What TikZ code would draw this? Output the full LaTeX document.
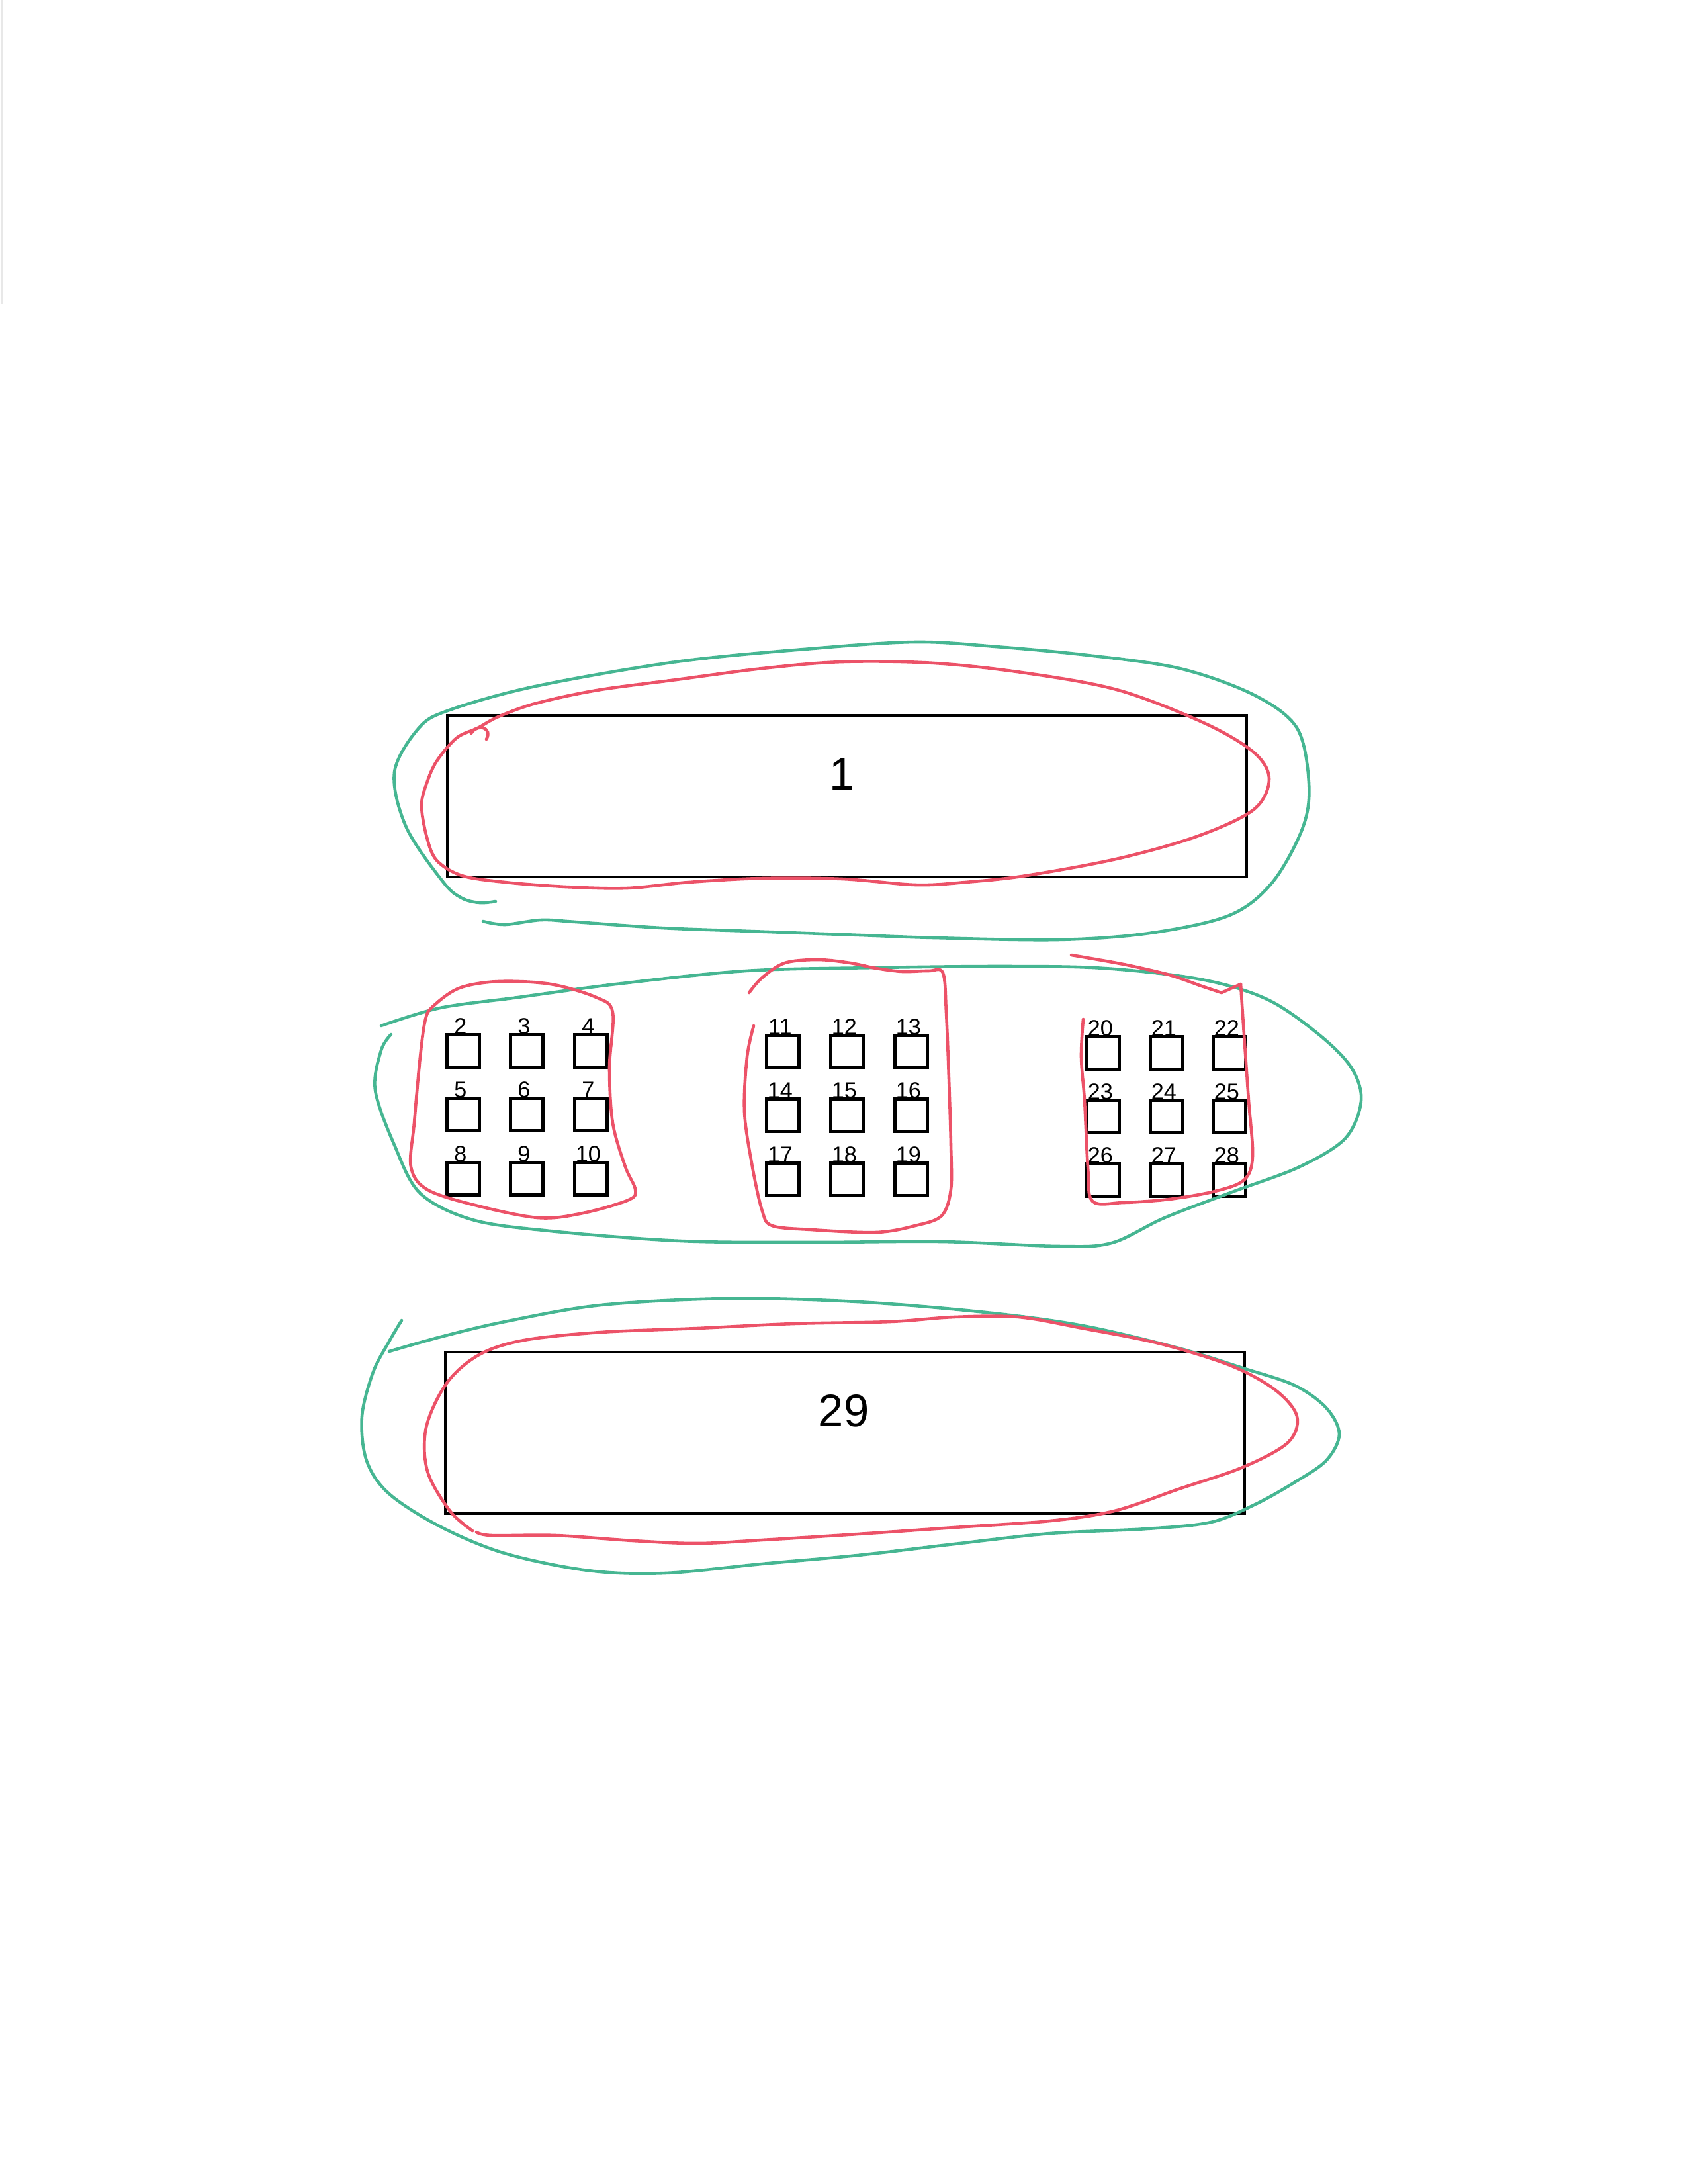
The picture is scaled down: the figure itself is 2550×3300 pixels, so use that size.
\documentclass[tikz,border=0pt]{standalone}
\usepackage{fontspec}
\setmainfont{Liberation Sans}
\definecolor{penGreen}{RGB}{70,182,146}
\definecolor{penRed}{RGB}{236,82,104}
\begin{document}
\begin{tikzpicture}[x=0.24pt,y=-0.24pt,
  bigbox/.style={draw=black, line width=0.95pt, minimum width=289.9pt, minimum height=58.6pt, inner sep=0pt},
  cell/.style={draw=black, line width=1.05pt, minimum size=11.8pt, inner sep=0pt},
  biglbl/.style={font=\fontsize{16.5}{18}\selectfont, anchor=base, inner sep=0pt},
  cellnum/.style={font=\fontsize{8.2}{9.5}\selectfont, anchor=base, inner sep=0pt, xshift=-1pt, yshift=-0.4pt},
  greenpen/.style={draw=penGreen, line width=1.1pt, line cap=round, line join=round},
  redpen/.style={draw=penRed, line width=1.1pt, line cap=round, line join=round}]
\useasboundingbox (0,0) rectangle (2550,3300);
\fill[white] (0,0) rectangle (2550,3300);
\draw[gray!18, line width=1.2pt] (3,0) -- (3,460);

% big boxes
\node[bigbox] (box1) at (1280,1203) {};
\node[biglbl] (lbl1) at (1273,1193) {1};
\node[bigbox] (box29) at (1277,2165) {};
\node[biglbl] (lbl29) at (1275,2155) {29};

% small cells
\foreach \n/\x/\y in {2/700/1588, 3/796/1588, 4/893/1588, 5/700/1684, 6/796/1684, 7/893/1684, 8/700/1781, 9/796/1781, 10/893/1781,
  11/1183/1589, 12/1280/1589, 13/1377/1589, 14/1183/1685, 15/1280/1685, 16/1377/1685, 17/1183/1782, 18/1280/1782, 19/1377/1782,
  20/1667/1591, 21/1763/1591, 22/1858/1591, 23/1667/1687, 24/1763/1687, 25/1858/1687, 26/1667/1783, 27/1763/1783, 28/1858/1783}
{
  \node[cell] (b\n) at (\x,\y) {};
  \node[cellnum] (t\n) at (b\n.north) {\n};
}

% ---- top group ----
\draw[greenpen] plot[smooth, tension=0.55] coordinates {
 (730,1392) (763,1397) (818,1390) (870,1393) (1000,1402) (1134,1407) (1300,1413) (1412,1417) (1598,1420)
 (1737,1410) (1858,1383) (1923,1333) (1969,1250) (1978,1183) (1960,1100) (1895,1050) (1783,1010) (1644,990)
 (1505,977) (1384,970) (1227,980) (1022,1000) (809,1037) (679,1073) (633,1100) (596,1167) (614,1250)
 (670,1333) (698,1357) (725,1364) (749,1362)};
\draw[redpen] plot[smooth cycle, tension=0.55] coordinates {
 (690,1115) (660,1150) (645,1183) (637,1217) (645,1265) (660,1300) (698,1323) (763,1333) (855,1340)
 (948,1342) (1041,1333) (1152,1327) (1273,1328) (1384,1337) (1459,1333) (1551,1323) (1691,1297) (1811,1263)
 (1895,1223) (1918,1177) (1895,1137) (1821,1093) (1691,1043) (1551,1017) (1412,1002) (1273,1000) (1152,1010)
 (1022,1027) (902,1043) (809,1063) (753,1083) (722,1100)};
\draw[redpen] (735,1117) .. controls (745,1100) and (722,1092) .. (712,1108);

% ---- middle group ----
\draw[greenpen] plot[smooth, tension=0.55] coordinates {
 (576,1550) (665,1523) (783,1507) (931,1487) (1127,1467) (1324,1462) (1521,1460) (1669,1463) (1816,1480)
 (1915,1510) (1993,1563) (2042,1613) (2057,1663) (2033,1720) (1964,1763) (1865,1800) (1760,1840)
 (1680,1878) (1600,1883) (1423,1876) (1226,1877) (1029,1875) (832,1860) (714,1843) (635,1803) (596,1730)
 (567,1647) (576,1587) (591,1563)};
\draw[redpen] plot[smooth cycle, tension=0.55] coordinates {
 (643,1540) (655,1520) (694,1493) (753,1483) (832,1487) (901,1507) (926,1530) (921,1613) (926,1697)
 (945,1763) (960,1797) (950,1813) (881,1833) (813,1840) (714,1820) (645,1797) (621,1763) (626,1697) (635,1597)};
\draw[redpen] plot[smooth, tension=0.55] coordinates {
 (1132,1500) (1152,1477) (1186,1455) (1236,1450) (1285,1455) (1324,1463) (1364,1468) (1403,1467) (1425,1470)
 (1430,1530) (1434,1630) (1437,1730) (1437,1797) (1423,1837) (1383,1852) (1324,1862) (1226,1858) (1167,1852)
 (1152,1830) (1137,1763) (1125,1680) (1129,1597) (1139,1550)};
\draw[redpen] plot[smooth, tension=0.5] coordinates {
 (1619,1443) (1698,1457) (1767,1473) (1816,1490) (1846,1500)};
\draw[redpen] (1846,1500) -- (1875,1487);
\draw[redpen] plot[smooth, tension=0.55] coordinates {
 (1875,1487) (1880,1563) (1887,1663) (1893,1747) (1880,1783) (1836,1800) (1767,1812) (1698,1817) (1651,1815)
 (1644,1763) (1639,1663) (1634,1597) (1637,1540)};

% ---- bottom group ----
\draw[greenpen] plot[smooth, tension=0.55] coordinates {
 (607,1995) (588,2027) (564,2073) (547,2140) (554,2207) (588,2257) (666,2307) (763,2347) (889,2373)
 (1005,2377) (1151,2363) (1296,2350) (1442,2333) (1587,2317) (1733,2310) (1830,2300) (1897,2273) (1956,2240)
 (2004,2207) (2024,2167) (2004,2127) (1956,2093) (1878,2067) (1781,2037) (1636,2003) (1490,1983) (1296,1967)
 (1102,1962) (908,1972) (763,1997) (666,2020) (588,2042)};
\draw[redpen] plot[smooth, tension=0.55] coordinates {
 (714,2313) (680,2283) (646,2223) (644,2157) (675,2090) (724,2047) (792,2025) (908,2013) (1054,2007)
 (1199,2000) (1345,1997) (1442,1990) (1539,1990) (1636,2007) (1752,2030) (1859,2063) (1927,2100) (1960,2140)
 (1946,2180) (1878,2217) (1781,2250) (1684,2283) (1587,2298) (1442,2308) (1296,2318) (1151,2327) (1054,2332)
 (957,2328) (840,2320) (743,2320) (720,2315)};
\end{tikzpicture}
\end{document}
